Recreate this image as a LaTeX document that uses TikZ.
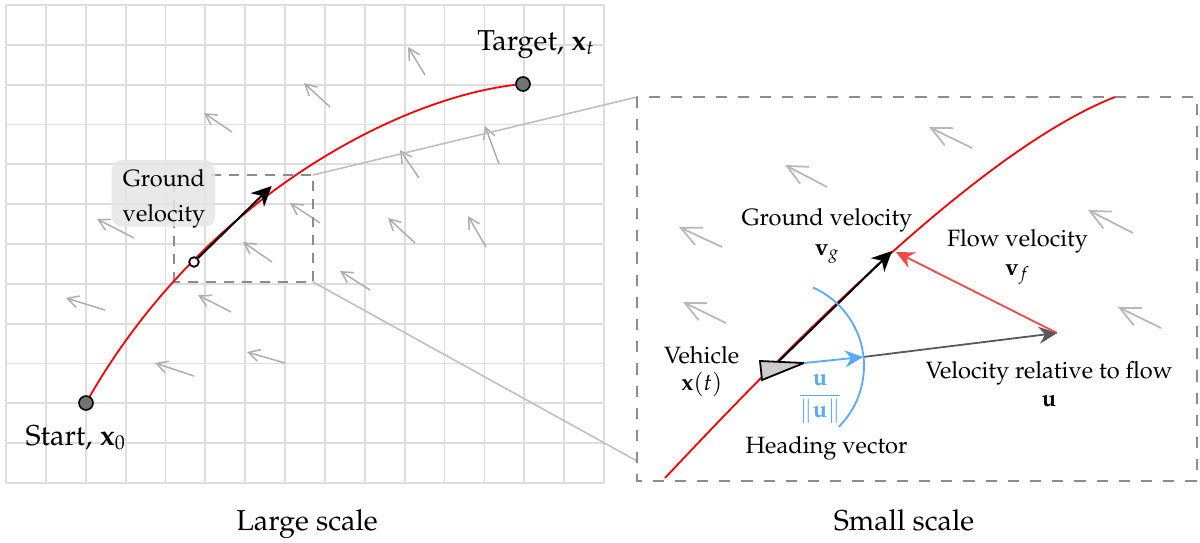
\documentclass[tikz,border=0pt]{standalone}
\usepackage[T1]{fontenc}
\usepackage{mathpazo}
\usetikzlibrary{arrows.meta}
\definecolor{hblue}{RGB}{85,170,255}
\definecolor{flowred}{RGB}{242,72,72}
\begin{document}
\begin{tikzpicture}[x=0.5pt,y=-0.5pt,
  every node/.style={font=\fontsize{11.8}{14.6}\selectfont, inner sep=0pt},
  gridline/.style={draw=black!13, line width=0.9pt},
  flowarrow/.style={draw=black!32, line width=0.75pt, -{Straight Barb[length=5.5pt,width=6pt]}},
  bigflow/.style={draw=black!28, line width=0.9pt, -{Straight Barb[length=10pt,width=9.5pt]}},
  zoomline/.style={draw=black!25, line width=0.8pt},
  zoombox/.style={draw=black!45, line width=0.9pt, dash pattern=on 5pt off 4pt},
  bigbox/.style={draw=black!45, line width=0.9pt, dash pattern=on 5.6pt off 5.5pt},
  trajline/.style={draw=red, line width=0.9pt},
  endpoint/.style={circle, draw=black, fill=black!55, line width=0.8pt, minimum size=7pt},
  vehdot/.style={circle, draw=black, fill=white, line width=0.9pt, minimum size=4.8pt},
  vecarrow/.style={line width=1pt, -{Stealth[length=10pt,width=9.5pt,inset=3pt]}},
  smallvec/.style={line width=0.9pt, -{Stealth[length=9pt,width=8.5pt,inset=3pt]}},
  lbl/.style={anchor=base, align=center},
  biglbl/.style={anchor=base, font=\fontsize{14.4}{17}\selectfont}]
\useasboundingbox (0,0) rectangle (1200,542);

% ---------- Large scale panel ----------
\foreach \i in {0,...,15} \draw[gridline] ({6+\i*39.87},5) -- ({6+\i*39.87},483);
\foreach \j in {0,...,12} \draw[gridline] (6,{5+\j*39.83}) -- (604,{5+\j*39.83});

\foreach \tx/\ty/\hx/\hy in {425/75/408/47, 330/107/304/83, 232/132/204/113, 499/164/485/126,
  419/178/400/150, 320/223/290/203, 415/243/388/218, 486/247/468/216, 134/238/97/219,
  272/262/243/242, 370/290/340/271, 105/310/66/298, 231/312/198/295, 194/376/155/363,
  285/363/247/352}
  \draw[flowarrow] (\tx,\ty) -- (\hx,\hy);

\coordinate (bl) at (174,282);
\coordinate (tr) at (313,175);
\coordinate (br) at (313,282);
\coordinate (bigtl) at (637,97);
\coordinate (bigbr) at (1197,481);
\coordinate (biglow) at (637,461);
\draw[zoomline] (tr) -- (bigtl);
\draw[zoomline] (br) -- (biglow);
\draw[zoombox] (bl) rectangle (tr);

\coordinate (s0) at (86,403);
\coordinate (s1) at (523,84);
\draw[trajline] (s0) .. controls (200,200) and (400,95) .. (s1);

\fill[black!10, fill opacity=0.85, rounded corners=5pt] (111.7,160) rectangle (215,226.7);
\node[lbl] (gvleft) at (164,221.7) {Ground\\[3.2pt]velocity};

\node[vehdot] (vdot) at (194,262) {};
\coordinate (gvtip) at (271.7,186);
\draw[vecarrow] (vdot) -- (gvtip);

\node[endpoint] (start) at (s0) {};
\node[endpoint] (target) at (s1) {};
\node[biglbl] (startlbl) at (75.7,445) {Start, $\mathbf{x}_0$};
\node[biglbl] (targetlbl) at (536,50) {Target, $\mathbf{x}_t$};

\node[biglbl] (large) at (307,530) {Large scale};

% ---------- Small scale panel ----------
\draw[bigbox] (bigtl) rectangle (bigbr);

\foreach \tx/\ty/\hx/\hy in {972/148/929/127, 827/187/785/165, 722/247/679/227,
  726/323/683/302, 1133/233/1088/210, 1161/328/1118/307}
  \draw[bigflow] (\tx,\ty) -- (\hx,\hy);

\draw[trajline] (665,478) .. controls (790,345) and (980,150) .. (1115,97);

\coordinate (vtail) at (779,361);
\coordinate (vgtip) at (892,251);
\coordinate (vftip) at (896,252);
\coordinate (utip) at (1057,333);
\coordinate (htail) at (804,363);
\coordinate (htip) at (863,357);

\draw[smallvec, draw=black!65, fill=black!65] (htip) -- (utip);
\draw[smallvec, draw=flowred, fill=flowred] (utip) -- (vftip);

\draw[fill=black!20, line width=0.9pt, line join=miter] (760,361) -- (762,380) -- (htail) -- cycle;
\draw[vecarrow] (vtail) -- (vgtip);
\draw[smallvec, draw=hblue, fill=hblue] (htail) -- (htip);

\draw[hblue, line width=0.9pt] (778,366) ++(-45:43pt) arc[start angle=-45, end angle=66, radius=43pt];

\node[lbl] (gvright) at (827,255) {Ground velocity\\$\mathbf{v}_g$};
\node[lbl] (fvlbl) at (1017.5,275) {Flow velocity\\[-0.5pt]$\mathbf{v}_f$};
\node[lbl] (vehlbl) at (701.7,390) {Vehicle\\[-1.3pt]$\mathbf{x}(t)$};
\node[anchor=base, text=hblue] (hfrac) at (820,401) {$\displaystyle\frac{\mathbf{u}}{\|\mathbf{u}\|}$};
\node[lbl] (headlbl) at (826.5,453.3) {Heading vector};
\node[lbl] (rellbl) at (1049,406.7) {Velocity relative to flow\\[-0.25pt]$\mathbf{u}$};

\node[biglbl] (small) at (904,530) {Small scale};
\end{tikzpicture}
\end{document}
